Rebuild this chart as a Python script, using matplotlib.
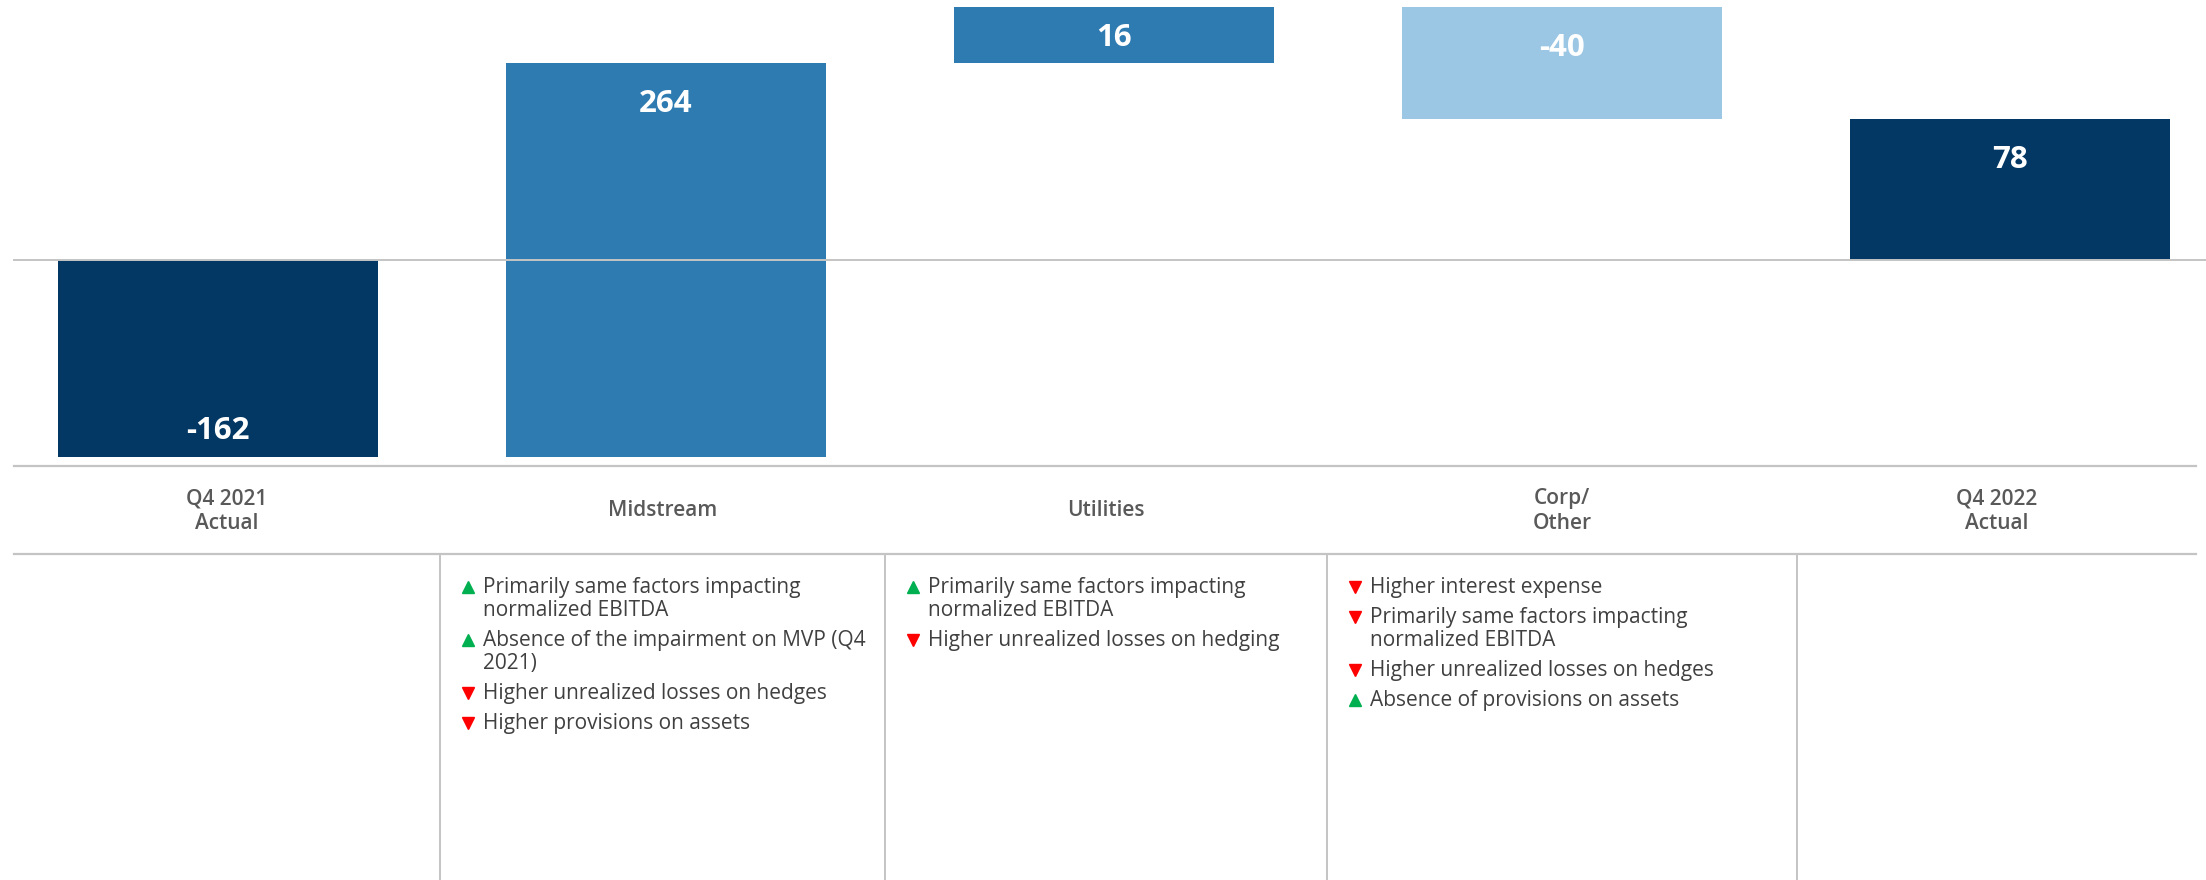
import numpy as np
import matplotlib.pyplot as plt

# waterfall data (Q4 2021 -> Q4 2022)
categories = ['Q4 2021\nActual', 'Midstream', 'Utilities', 'Corp/\nOther', 'Q4 2022\nActual']
values = [-162, 264, 16, -40, 78]
kinds = ['total', 'delta', 'delta', 'delta', 'total']

# commentary below each bar: (direction, text)
bullets = [
    [],
    [('up', 'Primarily same factors impacting\nnormalized EBITDA'),
     ('up', 'Absence of the impairment on MVP (Q4\n2021)'),
     ('down', 'Higher unrealized losses on hedges'),
     ('down', 'Higher provisions on assets')],
    [('up', 'Primarily same factors impacting\nnormalized EBITDA'),
     ('down', 'Higher unrealized losses on hedging')],
    [('down', 'Higher interest expense'),
     ('down', 'Primarily same factors impacting\nnormalized EBITDA'),
     ('down', 'Higher unrealized losses on hedges'),
     ('up', 'Absence of provisions on assets')],
    [],
]

NAVY = '#033864'
MID = '#2E7BB2'
LIGHT = '#9BC6E4'
GRID = '#C4C4C4'

plt.rcParams['font.family'] = ['Open Sans', 'DejaVu Sans']

W, H = 2206, 880
fig = plt.figure(figsize=(W / 100, H / 100), dpi=100)

# waterfall bottoms / tops
bottoms, tops, colors = [], [], []
running = 0
for v, k in zip(values, kinds):
    if k == 'total':
        lo, hi = min(0, v), max(0, v)
        running = v
        colors.append(NAVY)
    else:
        lo, hi = min(running, running + v), max(running, running + v)
        running += v
        colors.append(MID if v > 0 else LIGHT)
    bottoms.append(lo)
    tops.append(hi)

# the original chart is not drawn to scale: piecewise scale through the levels
levels = sorted(set(bottoms + tops))
level_px = [0, 197, 338, 394, 450]
kv = [levels[0] - 1e4] + levels + [levels[-1] + 1e4]
kd = [level_px[0] - 1e4] + level_px + [level_px[-1] + 1e4]


def fwd(v):
    return np.interp(v, kv, kd)


def inv(d):
    return np.interp(d, kd, kv)


top_px, bot_px = 7, 457
ax = fig.add_axes([0, (H - bot_px) / H, 1, (bot_px - top_px) / H])
ax.set_yscale('function', functions=(fwd, inv))
ax.set_ylim(levels[0], levels[-1])
step, first = 448, 217.5
ax.set_xlim(-first / step, (W - first) / step)
ax.axis('off')

x = np.arange(len(values))
heights = np.array(tops) - np.array(bottoms)
ax.bar(x, heights, bottom=bottoms, width=320 / step, color=colors, zorder=2)
ax.axhline(0, xmin=14 / W, xmax=1, color=GRID, lw=1.4, zorder=3)

# value labels inside the bars
for i, v in enumerate(values):
    y_top = ax.transData.transform((i, tops[i]))[1]
    y_bot = ax.transData.transform((i, bottoms[i]))[1]
    half = (y_top - y_bot) / 2
    if kinds[i] == 'total' and v < 0:
        xy, dy = (i, bottoms[i]), min(29, half) - 11.4
    else:
        xy, dy = (i, tops[i]), -min(38, half) - 11.4
    ax.annotate(f'{v}', xy=xy, xytext=(0, dy), textcoords='offset pixels',
                ha='center', va='baseline', color='white', fontsize=22.5,
                fontweight='bold', zorder=4)

# table area below the chart, in pixel coordinates
tab = fig.add_axes([0, 0, 1, 1], zorder=-1)
tab.set_xlim(0, W)
tab.set_ylim(H, 0)
tab.axis('off')

edges = [14, 440, 885, 1327, 1797, 2196]
tab.plot([edges[0], edges[-1]], [466, 466], color=GRID, lw=1.6)
tab.plot([edges[0], edges[-1]], [554, 554], color=GRID, lw=1.6)
for e in edges[1:-1]:
    tab.plot([e, e], [554, H], color=GRID, lw=1.4)

for i, cat in enumerate(categories):
    cx = (edges[i] + edges[i + 1]) / 2
    lines = cat.split('\n')
    y0 = 516.5 - (len(lines) - 1) * 12.5
    for j, line in enumerate(lines):
        tab.text(cx, y0 + j * 25, line, ha='center', va='baseline',
                 fontsize=15, fontweight='semibold', color='#595959')

for i, items in enumerate(bullets):
    y = 593
    for direction, text in items:
        mk = '^' if direction == 'up' else 'v'
        col = '#00B050' if direction == 'up' else '#FF0000'
        tab.plot(edges[i] + 28, y - 6, marker=mk, ms=8.5, color=col,
                 linestyle='none')
        for j, line in enumerate(text.split('\n')):
            tab.text(edges[i] + 43, y + j * 23, line, ha='left', va='baseline',
                     fontsize=15, color='#404040')
        y += (len(text.split('\n')) - 1) * 23 + 30

fig.savefig('out.png', dpi=100)
